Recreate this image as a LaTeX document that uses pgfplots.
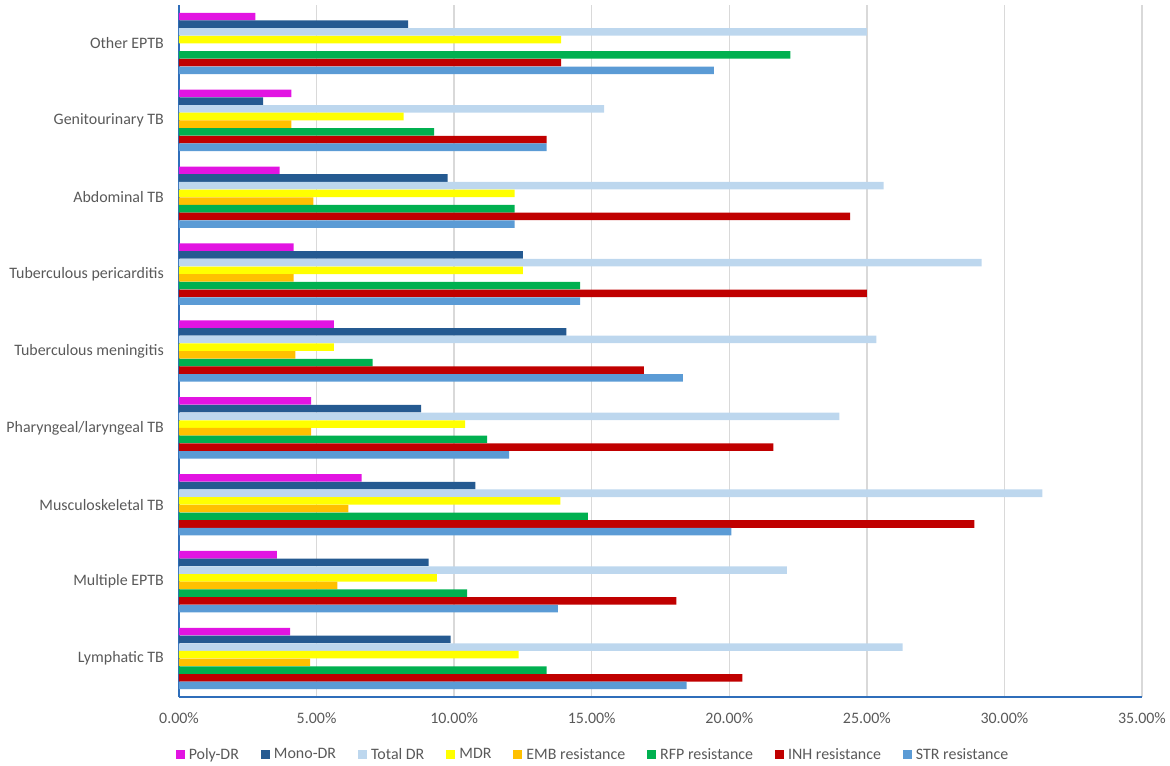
\documentclass[border=0pt]{standalone}
\usepackage{fontspec}
\setmainfont{Carlito}
\usepackage{pgfplots}
\pgfplotsset{compat=1.18}
\definecolor{cPoly}{RGB}{226,20,226}
\definecolor{cMono}{RGB}{37,90,145}
\definecolor{cTotal}{RGB}{189,215,238}
\definecolor{cMDR}{RGB}{255,255,0}
\definecolor{cEMB}{RGB}{255,192,0}
\definecolor{cRFP}{RGB}{0,176,80}
\definecolor{cINH}{RGB}{192,0,0}
\definecolor{cSTR}{RGB}{91,155,213}
\definecolor{gridgray}{RGB}{217,217,217}
\definecolor{axisblue}{RGB}{47,110,186}
\definecolor{textgray}{RGB}{89,89,89}
\begin{document}
\begin{tikzpicture}
\begin{axis}[
  at={(0,0)}, anchor=south west,
  scale only axis, width=963bp, height=692bp,
  xmin=0, xmax=35, ymin=-0.5, ymax=8.5,
  xbar, bar width=0.098,
  xtick={0,5,...,35},
  xticklabels={0.00\%,5.00\%,10.00\%,15.00\%,20.00\%,25.00\%,30.00\%,35.00\%},
  ytick={0,...,8},
  yticklabels={Lymphatic TB,Multiple EPTB,Musculoskeletal TB,Pharyngeal/laryngeal TB,Tuberculous meningitis,Tuberculous pericarditis,Abdominal TB,Genitourinary TB,Other EPTB},
  major tick length=0pt,
  xmajorgrids, grid style={draw=gridgray, line width=1.5bp},
  axis x line*=bottom, axis y line*=left,
  axis line style={draw=axisblue, line width=1.5bp},
  tick label style={font=\fontsize{16}{19}\selectfont, text=textgray},
  yticklabel style={inner sep=0pt, xshift=-15bp},
  xticklabel style={inner sep=0pt, yshift=-15bp},
  legend columns=-1,
  legend cell align=left,
  legend style={at={(0.4289,-0.083)}, anchor=center, draw=none, fill=none,
    font=\fontsize{16}{19}\selectfont, text=textgray,
    nodes={inner sep=0pt},
    /tikz/every even column/.append style={column sep=22bp}},
  legend image code/.code={\fill[#1,draw=none] (0bp,-4.5bp) rectangle (9bp,4.5bp); \path (13bp,0bp);},
  every axis plot/.append style={draw=none},
]
\addplot[fill=cPoly, bar shift=0.35] coordinates {
 (4.04,0) (3.56,1) (6.64,2) (4.80,3) (5.63,4) (4.17,5) (3.66,6) (4.08,7) (2.78,8)};
\addlegendentry{Poly-DR}
\addplot[fill=cMono, bar shift=0.25] coordinates {
 (9.87,0) (9.07,1) (10.77,2) (8.80,3) (14.08,4) (12.50,5) (9.76,6) (3.06,7) (8.33,8)};
\addlegendentry{Mono-DR}
\addplot[fill=cTotal, bar shift=0.15] coordinates {
 (26.30,0) (22.09,1) (31.38,2) (24.00,3) (25.35,4) (29.17,5) (25.61,6) (15.45,7) (25.00,8)};
\addlegendentry{Total DR}
\addplot[fill=cMDR, bar shift=0.05] coordinates {
 (12.34,0) (9.37,1) (13.86,2) (10.40,3) (5.63,4) (12.50,5) (12.20,6) (8.16,7) (13.89,8)};
\addlegendentry{MDR}
\addplot[fill=cEMB, bar shift=-0.05] coordinates {
 (4.77,0) (5.76,1) (6.16,2) (4.80,3) (4.23,4) (4.17,5) (4.88,6) (4.08,7)};
\addlegendentry{EMB resistance}
\addplot[fill=cRFP, bar shift=-0.15] coordinates {
 (13.36,0) (10.47,1) (14.86,2) (11.20,3) (7.04,4) (14.58,5) (12.20,6) (9.27,7) (22.22,8)};
\addlegendentry{RFP resistance}
\addplot[fill=cINH, bar shift=-0.25] coordinates {
 (20.48,0) (18.08,1) (28.91,2) (21.60,3) (16.90,4) (25.00,5) (24.39,6) (13.36,7) (13.89,8)};
\addlegendentry{INH resistance}
\addplot[fill=cSTR, bar shift=-0.35] coordinates {
 (18.45,0) (13.77,1) (20.08,2) (12.00,3) (18.31,4) (14.58,5) (12.20,6) (13.36,7) (19.44,8)};
\addlegendentry{STR resistance}
\end{axis}
\path (-179bp,-69bp) rectangle (991bp,697bp);
\end{tikzpicture}
\end{document}
